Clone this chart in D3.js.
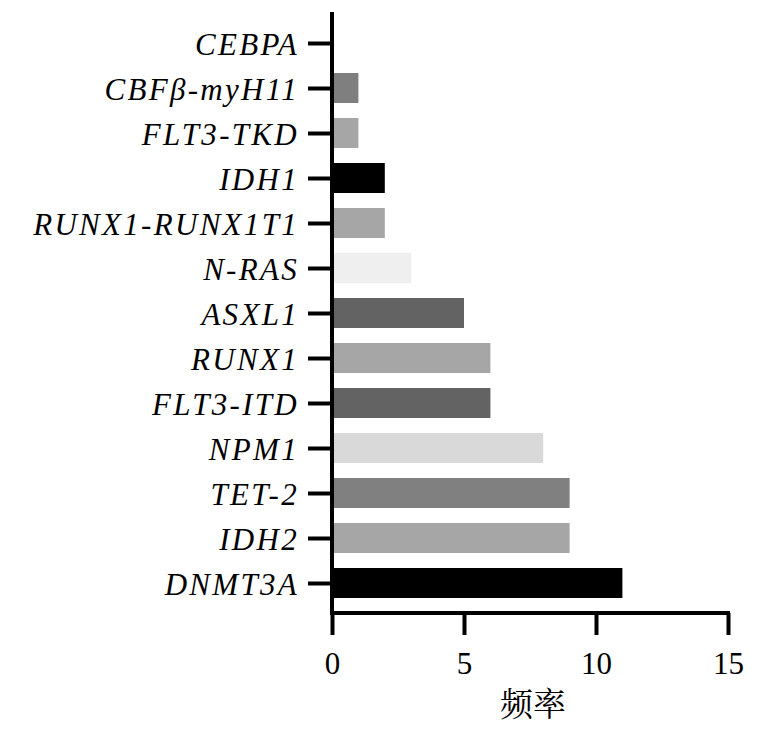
<!DOCTYPE html>
<html><head><meta charset="utf-8">
<script src="https://cdn.jsdelivr.net/npm/d3@7"></script>
<style>body{margin:0;background:#fff}</style>
</head><body>
<svg id="c" width="767" height="732"></svg>
<script>
const categories = ["CEBPA","CBFβ-myH11","FLT3-TKD","IDH1","RUNX1-RUNX1T1","N-RAS","ASXL1","RUNX1","FLT3-ITD","NPM1","TET-2","IDH2","DNMT3A"];
const values = [0,1,1,2,2,3,5,6,6,8,9,9,11];
const colors = ["#000000","#7f7f7f","#a6a6a6","#000000","#a6a6a6","#efefef","#636363","#a6a6a6","#636363","#d9d9d9","#808080","#a6a6a6","#000000"];
const xTicks = [0,5,10,15];
const xTitle = "频率";

const svg = d3.select("#c");
const x0 = 332, x1 = 728, yTop = 12, yBase = 613;
const x = d3.scaleLinear().domain([0,15]).range([x0,x1]);
const y = d3.scalePoint().domain(categories).range([43,583]);
const barH = 30;
const serif = "'Liberation Serif', 'Times New Roman', Times, 'DejaVu Serif', serif";

// bars
svg.append("g").selectAll("rect").data(categories).join("rect")
  .attr("x", x(0)+2)
  .attr("y", d => y(d)-barH/2)
  .attr("width", (d,i) => Math.max(0, x(values[i]) - x(0) - 2))
  .attr("height", barH)
  .attr("fill", (d,i) => colors[i]);

// y axis
const yAxis = svg.append("g").attr("transform",`translate(${x0},0)`)
  .call(d3.axisLeft(y).tickSize(24).tickPadding(10));
yAxis.attr("font-family", null).attr("font-size", null);
yAxis.select(".domain").attr("d",`M0,${yTop}V${yBase+2}`).attr("stroke","#000").attr("stroke-width",4);
yAxis.selectAll(".tick line").attr("stroke","#000").attr("stroke-width",4);
yAxis.selectAll(".tick text")
  .style("font-family", serif)
  .style("font-style","italic").style("font-size","31px").attr("fill","#000")
  .style("letter-spacing","2.3px")
  .attr("x",-33)
  .attr("dy","0.36em");

// x axis
const xAxis = svg.append("g").attr("transform",`translate(0,${yBase})`)
  .call(d3.axisBottom(x).tickValues(xTicks).tickSize(22).tickPadding(14).tickFormat(d3.format("d")));
xAxis.attr("font-family", null).attr("font-size", null);
xAxis.select(".domain").attr("d",`M${x0-2},0H${x1+2}`).attr("stroke","#000").attr("stroke-width",4);
xAxis.selectAll(".tick line").attr("stroke","#000").attr("stroke-width",4);
xAxis.selectAll(".tick text")
  .style("font-family", serif)
  .style("font-size","31px").attr("fill","#000")
  .attr("y",0).attr("dy",0)
  .attr("transform","translate(0,61)");

svg.append("text").attr("x",533).attr("y",716)
  .attr("text-anchor","middle")
  .style("font-family","'Noto Serif CJK SC','Noto Sans CJK SC',serif")
  .style("font-size","33px").attr("fill","#000").text(xTitle);
</script>
</body></html>
